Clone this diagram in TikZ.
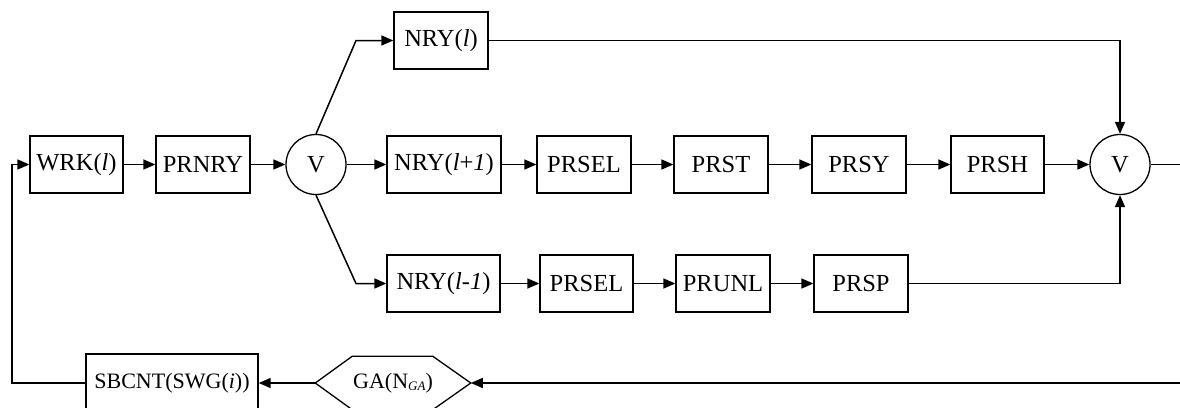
\documentclass[tikz,border=0pt]{standalone}
\usepackage{fontspec}
\setmainfont{Liberation Serif}
\usetikzlibrary{arrows.meta,calc}
\begin{document}
\begin{tikzpicture}[x=1pt,y=-1pt,
  line width=1.5pt,
  every node/.style={font=\fontsize{24.5}{28}\selectfont},
  blk/.style={draw, line width=1.3pt, rectangle, minimum height=57pt, inner sep=0pt},
  orc/.style={draw, line width=1.3pt, circle, minimum size=60pt, inner sep=0pt},
  arr/.style={-{Triangle[length=12pt,width=10pt]}}
]
\useasboundingbox (0,0) rectangle (1180,407);
\clip (0,0) rectangle (1180,407);
% main row
\node[blk, minimum width=93pt] (wrk) at (76.5,164.5) {WRK(\textit{l})};
\node[blk, minimum width=94pt] (prnry) at (203,164.5) {PRNRY};
\node[orc] (c1) at (316,164.5) {V};
\node[blk, minimum width=94pt] (nryl) at (441,40.5) {NRY(\textit{l})};
\node[blk, minimum width=114pt] (nryp) at (444,164.5) {NRY(\textit{l}+\textit{1})};
\node[blk, minimum width=94pt] (prsela) at (584,164.5) {PRSEL};
\node[blk, minimum width=94pt] (prst) at (721,164.5) {PRST};
\node[blk, minimum width=94pt] (prsy) at (859,164.5) {PRSY};
\node[blk, minimum width=93pt] (prsh) at (997.5,164.5) {PRSH};
\node[orc] (c2) at (1120,164.5) {V};
\node[blk, minimum width=113pt] (nrym) at (443.5,283.5) {NRY(\textit{l-1})};
\node[blk, minimum width=93pt] (prselb) at (586.5,283.5) {PRSEL};
\node[blk, minimum width=94pt] (prunl) at (723,283.5) {PRUNL};
\node[blk, minimum width=94pt] (prsp) at (861,283.5) {PRSP};
% bottom row
\node[blk, minimum width=172pt, minimum height=58pt, font=\fontsize{22}{26}\selectfont] (sbcnt) at (172,383) {SBCNT(SWG(\textit{i}))};
\node[rectangle, minimum width=154pt, minimum height=52pt, inner sep=0pt, font=\fontsize{22}{26}\selectfont] (ga) at (393,383) {GA(N\raisebox{-2pt}{\fontsize{13}{13}\selectfont\itshape GA})};
\draw[line width=1.3pt] (ga.west) -- ($(ga.north west)+(37,0)$) -- ($(ga.north east)+(-38,0)$) -- (ga.east)
      -- ($(ga.south east)+(-38,0)$) -- ($(ga.south west)+(37,0)$) -- cycle;
% bend coordinates
\coordinate (bt) at (356,40.5);
\coordinate (bb) at (356,283.5);
\coordinate (rt) at (1120,40.5);
\coordinate (rb) at (1120,283.5);
\coordinate (outr) at (1180,164.5);
\coordinate (inr) at (1180,383);
\coordinate (lb) at (12,383);
\coordinate (lt) at (12,164.5);
% connectors
\draw[arr] (wrk) -- (prnry);
\draw[arr] (prnry) -- (c1);
\draw[arr] (c1) -- (nryp);
\draw[arr] (nryp) -- (prsela);
\draw[arr] (prsela) -- (prst);
\draw[arr] (prst) -- (prsy);
\draw[arr] (prsy) -- (prsh);
\draw[arr] (prsh) -- (c2);
\draw[arr] (c1.north) -- (bt) -- (nryl.west);
\draw[arr] (c1.south) -- (bb) -- (nrym.west);
\draw[arr] (nrym) -- (prselb);
\draw[arr] (prselb) -- (prunl);
\draw[arr] (prunl) -- (prsp);
\draw[arr] (nryl.east) -- (rt) -- (c2.north);
\draw[arr] (prsp.east) -- (rb) -- (c2.south);
\draw (c2.east) -- (outr);
\draw[arr] (inr) -- (ga.east);
\draw[arr] (ga.west) -- (sbcnt.east);
\draw[arr] (sbcnt.west) -- (lb) -- (lt) -- (wrk.west);
\end{tikzpicture}
\end{document}
